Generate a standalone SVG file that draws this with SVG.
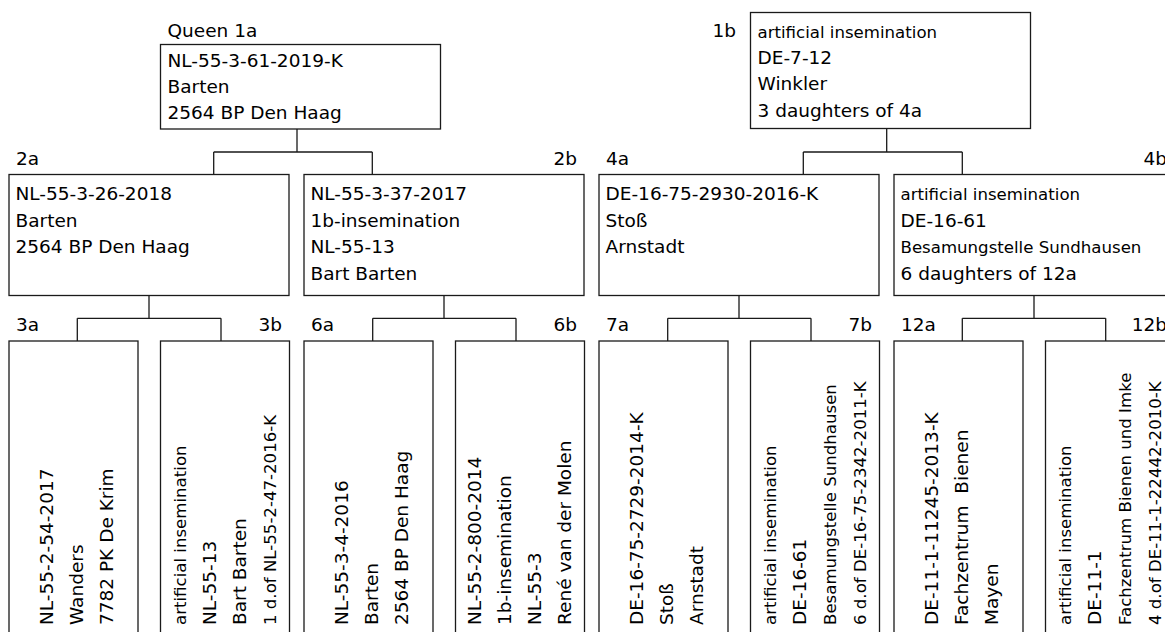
<svg xmlns="http://www.w3.org/2000/svg" width="1165" height="632" viewBox="0 0 1165 632">
<style>
text{font-family:"DejaVu Sans","Liberation Sans",sans-serif;font-size:18.5px;fill:#000}
.s{font-size:16.6px}
.e{text-anchor:end}
rect{fill:#fff;stroke:#1a1a1a;stroke-width:1.3}
#connectors path{fill:none;stroke:#1a1a1a;stroke-width:1.3}
</style>
<rect x="0" y="0" width="1165" height="632" style="stroke:none"/>
<g id="connectors">
<path d="M297,129V152M213.7,152H372.3M213.7,152V174.5M372.3,152V174.5"/>
<path d="M886.7,128.5V152M803.3,152H962.3M803.3,152V174.5M962.3,152V174.5"/>
<path d="M149,295.5V318.3M77.3,318.3H221M77.3,318.3V341M221,318.3V341"/>
<path d="M444,295.5V318.3M372.7,318.3H516M372.7,318.3V341M516,318.3V341"/>
<path d="M739,295.5V318.3M667.7,318.3H811M667.7,318.3V341M811,318.3V341"/>
<path d="M1034,295.5V318.3M962.3,318.3H1105.7M962.3,318.3V341M1105.7,318.3V341"/>
</g>
<g id="n1a">
<text x="167.5" y="36.7">Queen 1a</text>
<rect x="160.5" y="44.5" width="280" height="84.5"/>
<text x="167.5" y="66.5">NL-55-3-61-2019-K</text>
<text x="167.5" y="92.5">Barten</text>
<text x="167.5" y="118.5">2564 BP Den Haag</text>
</g>
<g id="n1b">
<text x="712.5" y="36.7">1b</text>
<rect x="750.5" y="12.5" width="280" height="116"/>
<text class="s" x="757.5" y="37.5">artificial insemination</text>
<text x="757.5" y="63.5">DE-7-12</text>
<text x="757.5" y="90">Winkler</text>
<text x="757.5" y="116.5">3 daughters of 4a</text>
</g>
<g id="n2a">
<text x="16" y="165">2a</text>
<rect x="9" y="174.5" width="280" height="121"/>
<text x="15.5" y="200">NL-55-3-26-2018</text>
<text x="15.5" y="226.7">Barten</text>
<text x="15.5" y="253.3">2564 BP Den Haag</text>
</g>
<g id="n2b">
<text class="e" x="577" y="165">2b</text>
<rect x="304" y="174.5" width="280" height="121"/>
<text x="310.5" y="200">NL-55-3-37-2017</text>
<text x="310.5" y="226.5">1b-insemination</text>
<text x="310.5" y="253">NL-55-13</text>
<text x="310.5" y="279.5">Bart Barten</text>
</g>
<g id="n4a">
<text x="606" y="165">4a</text>
<rect x="599" y="174.5" width="280" height="121"/>
<text x="605.5" y="200">DE-16-75-2930-2016-K</text>
<text x="605.5" y="226.7">Stoß</text>
<text x="605.5" y="253.3">Arnstadt</text>
</g>
<g id="n4b">
<text class="e" x="1167" y="165">4b</text>
<rect x="894" y="174.5" width="280" height="121"/>
<text class="s" x="900.5" y="199.5">artificial insemination</text>
<text x="900.5" y="226.5">DE-16-61</text>
<text class="s" x="900.5" y="253">Besamungstelle Sundhausen</text>
<text x="900.5" y="279.5">6 daughters of 12a</text>
</g>
<g id="n3a">
<text x="16" y="330.7">3a</text>
<rect x="9" y="341" width="129" height="300"/>
<text transform="translate(52.8,625) rotate(-90)">NL-55-2-54-2017</text>
<text transform="translate(82.8,625) rotate(-90)">Wanders</text>
<text transform="translate(112.8,625) rotate(-90)">7782 PK De Krim</text>
</g>
<g id="n3b">
<text class="e" x="282" y="330.7">3b</text>
<rect x="160.5" y="341" width="129" height="300"/>
<text class="s" transform="translate(185.5,625) rotate(-90)">artificial insemination</text>
<text transform="translate(215.5,625) rotate(-90)">NL-55-13</text>
<text transform="translate(245.5,625) rotate(-90)">Bart Barten</text>
<text class="s" transform="translate(275.7,625) rotate(-90)">1 d.of NL-55-2-47-2016-K</text>
</g>
<g id="n6a">
<text x="311" y="330.7">6a</text>
<rect x="304" y="341" width="129" height="300"/>
<text transform="translate(347.8,625) rotate(-90)">NL-55-3-4-2016</text>
<text transform="translate(377.8,625) rotate(-90)">Barten</text>
<text transform="translate(407.8,625) rotate(-90)">2564 BP Den Haag</text>
</g>
<g id="n6b">
<text class="e" x="577" y="330.7">6b</text>
<rect x="455.5" y="341" width="129" height="300"/>
<text transform="translate(480.5,625) rotate(-90)">NL-55-2-800-2014</text>
<text transform="translate(510.5,625) rotate(-90)">1b-insemination</text>
<text transform="translate(540.5,625) rotate(-90)">NL-55-3</text>
<text transform="translate(570.7,625) rotate(-90)">René van der Molen</text>
</g>
<g id="n7a">
<text x="606" y="330.7">7a</text>
<rect x="599" y="341" width="129" height="300"/>
<text transform="translate(642.8,625) rotate(-90)">DE-16-75-2729-2014-K</text>
<text transform="translate(672.8,625) rotate(-90)">Stoß</text>
<text transform="translate(702.8,625) rotate(-90)">Arnstadt</text>
</g>
<g id="n7b">
<text class="e" x="872" y="330.7">7b</text>
<rect x="750.5" y="341" width="129" height="300"/>
<text class="s" transform="translate(775.5,625) rotate(-90)">artificial insemination</text>
<text transform="translate(805.5,625) rotate(-90)">DE-16-61</text>
<text class="s" transform="translate(835.5,625) rotate(-90)">Besamungstelle Sundhausen</text>
<text class="s" transform="translate(865.7,625) rotate(-90)">6 d.of DE-16-75-2342-2011-K</text>
</g>
<g id="n12a">
<text x="901" y="330.7">12a</text>
<rect x="894" y="341" width="129" height="300"/>
<text transform="translate(937.8,625) rotate(-90)">DE-11-1-11245-2013-K</text>
<text transform="translate(967.8,625) rotate(-90)" xml:space="preserve">Fachzentrum  Bienen</text>
<text transform="translate(997.8,625) rotate(-90)">Mayen</text>
</g>
<g id="n12b">
<text class="e" x="1167" y="330.7">12b</text>
<rect x="1045.5" y="341" width="129" height="300"/>
<text class="s" transform="translate(1070.5,625) rotate(-90)">artificial insemination</text>
<text transform="translate(1100.5,625) rotate(-90)">DE-11-1</text>
<text class="s" transform="translate(1130.5,625) rotate(-90)">Fachzentrum Bienen und Imke</text>
<text class="s" transform="translate(1160.7,625) rotate(-90)">4 d.of DE-11-1-22442-2010-K</text>
</g>
</svg>
